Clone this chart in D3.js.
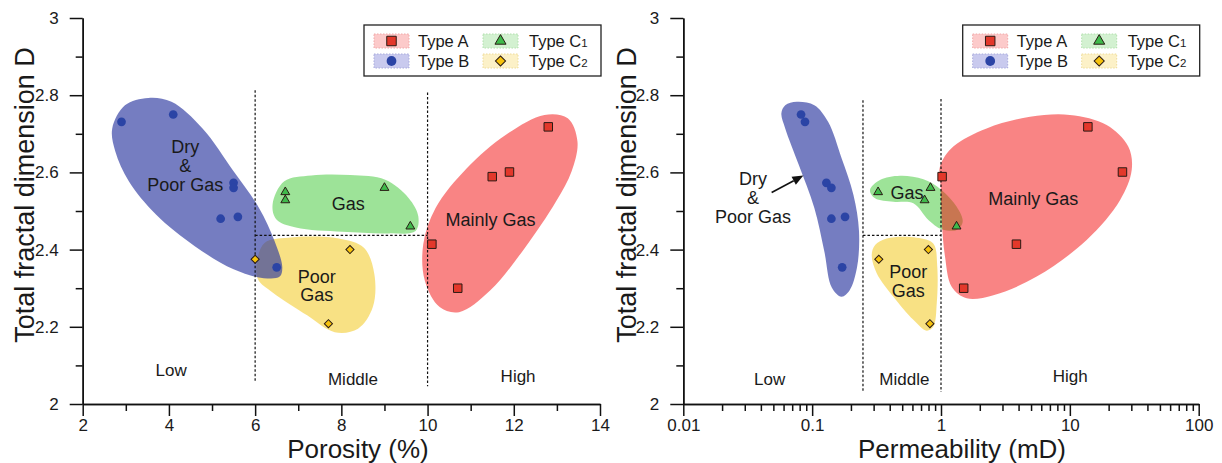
<!DOCTYPE html>
<html>
<head>
<meta charset="utf-8">
<script src="https://cdn.jsdelivr.net/npm/d3@7"></script>
<style>
  body { margin: 0; background: #fff; }
  svg { display: block; }
  text { font-family: "Liberation Sans", Arial, Helvetica, sans-serif; fill: #1a1a1a; }
</style>
</head>
<body>
<svg id="chart" width="1222" height="463"></svg>
<script>
// ---- sample measurements (same samples on both panels) ----
const typeA_porosity = [12.8, 11.5, 11.9, 10.1, 10.7];
const typeA_perm     = [13.8, 1.02, 25.6, 3.85, 1.50];
const typeA_D        = [2.718, 2.589, 2.601, 2.414, 2.300];

const typeB_porosity = [2.9, 4.1, 5.5, 5.5, 5.2, 5.6, 6.5];
const typeB_perm     = [0.088, 0.082, 0.129, 0.141, 0.141, 0.180, 0.171];
const typeB_D        = [2.731, 2.750, 2.573, 2.560, 2.480, 2.485, 2.354];

const typeC1_porosity = [6.7, 6.7, 9.0, 9.6];
const typeC1_perm     = [0.325, 0.746, 0.829, 1.32];
const typeC1_D        = [2.549, 2.528, 2.560, 2.460];

const typeC2_porosity = [6.0, 8.2, 7.7];
const typeC2_perm     = [0.329, 0.798, 0.82];
const typeC2_D        = [2.375, 2.400, 2.208];

// ---- axis ticks ----
const yTicks = [2, 2.2, 2.4, 2.6, 2.8, 3];
const yMinorTicks = [2.1, 2.3, 2.5, 2.7, 2.9];
const porosityTicks = [2, 4, 6, 8, 10, 12, 14];
const porosityMinorTicks = [3, 5, 7, 9, 11, 13];
const permTicks = [0.01, 0.1, 1, 10, 100];
const permTickLabels = ["0.01", "0.1", "1", "10", "100"];

// ---- classification cut-offs ----
const porosityCuts = [6, 10];
const permCuts = [0.248, 1];
const cutD = 2.437;

// ---- gas-zone outlines [x, D] ----
const zoneB_porosity = [[2.685,2.714],[2.98,2.774],[3.52,2.793],[4.06,2.783],[4.78,2.714],[5.5,2.603],[6.09,2.508],[6.45,2.422],[6.63,2.354],[6.57,2.330],[6.2,2.326],[5.5,2.349],[4.6,2.409],[3.7,2.491],[3.07,2.577],[2.757,2.654]];
const zoneC1_porosity = [[6.405,2.517],[6.676,2.577],[7.306,2.592],[8.207,2.593],[9.018,2.581],[9.559,2.534],[9.784,2.487],[9.72,2.448],[9.108,2.442],[8.027,2.446],[6.946,2.457],[6.495,2.478]];
const zoneC2_porosity = [[6.045,2.371],[6.225,2.418],[6.766,2.431],[7.937,2.429],[8.523,2.405],[8.766,2.336],[8.73,2.251],[8.387,2.195],[7.847,2.186],[7.216,2.229],[6.405,2.289],[6.063,2.324]];
const zoneA_porosity = [[12.712,2.749],[13.252,2.740],[13.477,2.680],[13.342,2.603],[12.982,2.525],[12.26,2.405],[11.45,2.294],[10.73,2.238],[10.28,2.251],[9.937,2.319],[9.9,2.414],[10.186,2.508],[10.91,2.611],[11.81,2.697]];

const zoneB_perm = [[0.0577,2.753],[0.0618,2.774],[0.076,2.783],[0.104,2.774],[0.133,2.731],[0.169,2.637],[0.209,2.542],[0.231,2.448],[0.223,2.354],[0.195,2.294],[0.169,2.278],[0.142,2.302],[0.124,2.397],[0.104,2.508],[0.0787,2.620],[0.0618,2.714]];
const zoneC1_perm = [[0.281,2.554],[0.336,2.580],[0.481,2.591],[0.730,2.582],[1.013,2.554],[1.324,2.511],[1.474,2.472],[1.324,2.451],[1.013,2.453],[0.798,2.477],[0.610,2.520],[0.427,2.524],[0.308,2.533]];
const zoneC2_perm = [[0.308,2.412],[0.379,2.429],[0.648,2.431],[0.871,2.416],[0.935,2.356],[0.927,2.261],[0.871,2.200],[0.774,2.190],[0.610,2.218],[0.427,2.278],[0.317,2.339],[0.290,2.386]];
const zoneA_perm = [[0.982,2.615],[1.246,2.667],[2.26,2.714],[4.91,2.744],[10.0,2.749],[19.3,2.723],[28.4,2.667],[30.2,2.606],[24.5,2.528],[13.5,2.425],[5.53,2.330],[2.55,2.282],[1.585,2.274],[1.21,2.304],[1.074,2.382],[1.013,2.477],[0.995,2.563]];

// ---- styles ----
const zoneFill = { A: "#f30a0a", B: "#2b37a0", C1: "#3cc832", C2: "#f2c40a" };
const zoneAlpha = { A: 0.5, B: 0.65, C1: 0.5, C2: 0.5 };
const legendFill = { A: "#fccaca", B: "#c9caee", C1: "#d3f1d1", C2: "#fcf1c8" };
const legendStroke = { A: "#f0a8a8", B: "#a9abdc", C1: "#b2e0ae", C2: "#eedc9a" };
const markFill = { A: "#e3382b", B: "#2b44a5", C1: "#3fba4b", C2: "#f6c20c" };

const svg = d3.select("#chart");
const Y0 = 404, Y1 = 18;

function markerPath(type, big) {
  const k = big ? 1.25 : 1;
  if (type === "A") return d3.symbol(d3.symbolSquare, 72 * k)();
  if (type === "B") return d3.symbol(d3.symbolCircle, 60 * k)();
  if (type === "C1") return d3.symbol(d3.symbolTriangle, 34 * k * k)();
  return d3.symbol(d3.symbolSquare, 33 * k * k)();
}

function drawPanel(opt) {
  const g = svg.append("g");
  const x = opt.x, y = d3.scaleLinear().domain([2, 3]).range([Y0, Y1]);

  // zones
  const line = d3.line().x(d => x(d[0])).y(d => y(d[1])).curve(d3.curveCatmullRomClosed.alpha(0.5));
  const zg = g.append("g");
  opt.zoneOrder.forEach(key => {
    zg.append("path").attr("d", line(opt.zones[key]))
      .attr("fill", zoneFill[key]).attr("fill-opacity", zoneAlpha[key]);
  });

  // cut-off lines
  const dash = g.append("g").attr("stroke", "#111").attr("stroke-width", 1.2)
    .attr("stroke-dasharray", "2.5,2").attr("fill", "none");
  opt.cuts.forEach((c, i) => {
    dash.append("line").attr("x1", x(c)).attr("x2", x(c))
      .attr("y1", y(opt.cutTop[i])).attr("y2", y(opt.cutBottom[i]));
  });
  dash.append("line").attr("x1", x(opt.cuts[0])).attr("x2", x(opt.cuts[1]))
    .attr("y1", y(cutD)).attr("y2", y(cutD));

  // axes
  const xAxis = d3.axisBottom(x).tickValues(opt.xTicks).tickSize(12).tickPadding(3)
    .tickSizeOuter(0).tickFormat((d, i) => opt.xLabels[i]);
  const xMinor = d3.axisBottom(x).tickValues(opt.xMinor).tickSize(7).tickSizeOuter(0).tickFormat("");
  const yAxis = d3.axisLeft(y).tickValues(yTicks).tickSize(13).tickPadding(11)
    .tickSizeOuter(0).tickFormat(d3.format("~g"));
  const yMinor = d3.axisLeft(y).tickValues(yMinorTicks).tickSize(7).tickSizeOuter(0).tickFormat("");

  [[xMinor, "x"], [xAxis, "x"], [yMinor, "y"], [yAxis, "y"]].forEach(([ax, dir]) => {
    const a = g.append("g")
      .attr("transform", dir === "x" ? `translate(0,${Y0})` : `translate(${opt.x.range()[0]},0)`)
      .call(ax);
    a.selectAll("path,line").attr("stroke", "#111").attr("stroke-width", 1.5);
    a.selectAll("text").attr("font-size", 17).attr("fill", "#1a1a1a")
      .style("font-family", '"Liberation Sans", Arial, sans-serif');
  });

  // markers
  const mg = g.append("g");
  opt.series.forEach(s => {
    s.xs.forEach((xv, i) => {
      const p = mg.append("path").attr("d", markerPath(s.key))
        .attr("fill", markFill[s.key]);
      if (s.key === "C2") p.attr("transform", `translate(${x(xv)},${y(s.ys[i])}) rotate(45)`);
      else p.attr("transform", `translate(${x(xv)},${y(s.ys[i])})`);
      if (s.key !== "B") p.attr("stroke", "#2a1a14").attr("stroke-width", 1);
    });
  });

  // zone labels
  opt.labels.forEach(l => {
    const t = g.append("text").attr("text-anchor", "middle").attr("font-size", l.size);
    l.lines.forEach((s, i) => {
      t.append("tspan").attr("x", x(l.x)).attr("y", y(l.ys[i])).attr("dy", "0.36em").text(s);
    });
  });

  // arrow
  if (opt.arrow) {
    const a = opt.arrow;
    const x1 = x(a.from[0]), y1 = y(a.from[1]), x2 = x(a.to[0]), y2 = y(a.to[1]);
    const ang = Math.atan2(y2 - y1, x2 - x1);
    const hl = 11, hw = 4.5;
    const bx = x2 - hl * Math.cos(ang), by = y2 - hl * Math.sin(ang);
    g.append("line").attr("x1", x1).attr("y1", y1).attr("x2", bx).attr("y2", by)
      .attr("stroke", "#111").attr("stroke-width", 1.6);
    g.append("path").attr("fill", "#111")
      .attr("d", `M${x2},${y2}L${bx + hw * Math.sin(ang)},${by - hw * Math.cos(ang)}L${bx - hw * Math.sin(ang)},${by + hw * Math.cos(ang)}Z`);
  }

  // axis titles
  g.append("text").attr("text-anchor", "middle").attr("font-size", 26)
    .attr("x", opt.titleX).attr("y", 458).text(opt.xTitle);
  g.append("text").attr("text-anchor", "middle").attr("font-size", 27)
    .attr("transform", `translate(${opt.yTitleX},195) rotate(-90)`).text("Total fractal dimension D");

  // legend
  const xr = opt.x.range()[1];
  const lg = g.append("g").attr("transform", `translate(${xr - 236},25)`);
  lg.append("rect").attr("x", 0).attr("y", 0).attr("width", 237).attr("height", 51)
    .attr("fill", "#fff").attr("stroke", "#222").attr("stroke-width", 1.3);
  const items = [
    { key: "A", label: "Type A", col: 0, row: 0 },
    { key: "C1", label: "Type C", sub: "1", col: 1, row: 0 },
    { key: "B", label: "Type B", col: 0, row: 1 },
    { key: "C2", label: "Type C", sub: "2", col: 1, row: 1 }
  ];
  items.forEach(it => {
    const ox = it.col * 109, cy = 16 + it.row * 20;
    lg.append("rect").attr("x", ox + 10).attr("y", cy - 7).attr("width", 35).attr("height", 14)
      .attr("fill", legendFill[it.key]).attr("stroke", legendStroke[it.key])
      .attr("stroke-width", 1).attr("stroke-dasharray", "1.5,1.5");
    const m = lg.append("path").attr("d", markerPath(it.key, true)).attr("fill", markFill[it.key]);
    m.attr("transform", `translate(${ox + 27.5},${cy})` + (it.key === "C2" ? " rotate(45)" : ""));
    if (it.key !== "B") m.attr("stroke", "#2a1a14").attr("stroke-width", 1);
    const t = lg.append("text").attr("x", ox + (it.col ? 56 : 54)).attr("y", cy).attr("dy", "0.36em")
      .attr("font-size", 16.5).text(it.label);
    if (it.sub) t.append("tspan").attr("font-size", 11.5).text(it.sub);
  });
}

// ---- left panel: porosity ----
drawPanel({
  x: d3.scaleLinear().domain([2, 14]).range([82.7, 600]),
  xTicks: porosityTicks, xLabels: porosityTicks.map(String), xMinor: porosityMinorTicks,
  xTitle: "Porosity (%)", titleX: 358, yTitleX: 34,
  cuts: porosityCuts, cutTop: [2.813, 2.807], cutBottom: [2.055, 2.046],
  zones: { A: zoneA_porosity, B: zoneB_porosity, C1: zoneC1_porosity, C2: zoneC2_porosity },
  zoneOrder: ["C2", "C1", "B", "A"],
  series: [
    { key: "B", xs: typeB_porosity, ys: typeB_D },
    { key: "C1", xs: typeC1_porosity, ys: typeC1_D },
    { key: "C2", xs: typeC2_porosity, ys: typeC2_D },
    { key: "A", xs: typeA_porosity, ys: typeA_D }
  ],
  labels: [
    { lines: ["Dry", "&", "Poor Gas"], x: 4.38, ys: [2.667, 2.617, 2.569], size: 18 },
    { lines: ["Gas"], x: 8.16, ys: [2.520], size: 18 },
    { lines: ["Poor", "Gas"], x: 7.43, ys: [2.330, 2.284], size: 18 },
    { lines: ["Mainly Gas"], x: 11.46, ys: [2.477], size: 18 },
    { lines: ["Low"], x: 4.05, ys: [2.089], size: 17 },
    { lines: ["Middle"], x: 8.27, ys: [2.066], size: 17 },
    { lines: ["High"], x: 12.1, ys: [2.073], size: 17 }
  ]
});

// ---- right panel: permeability ----
const permScale = d3.scaleLog().domain([0.01, 100]).range([683.3, 1198.7]);
drawPanel({
  x: permScale,
  xTicks: permTicks, xLabels: permTickLabels,
  xMinor: permScale.ticks().filter(t => !permTicks.includes(t)),
  xTitle: "Permeability (mD)", titleX: 962, yTitleX: 636,
  cuts: permCuts, cutTop: [2.787, 2.79], cutBottom: [2.029, 2.031],
  zones: { A: zoneA_perm, B: zoneB_perm, C1: zoneC1_perm, C2: zoneC2_perm },
  zoneOrder: ["C2", "B", "C1", "A"],
  series: [
    { key: "B", xs: typeB_perm, ys: typeB_D },
    { key: "C1", xs: typeC1_perm, ys: typeC1_D },
    { key: "C2", xs: typeC2_perm, ys: typeC2_D },
    { key: "A", xs: typeA_perm, ys: typeA_D }
  ],
  labels: [
    { lines: ["Dry", "&", "Poor Gas"], x: 0.0347, ys: [2.583, 2.535, 2.485], size: 18 },
    { lines: ["Gas"], x: 0.545, ys: [2.547], size: 18 },
    { lines: ["Poor", "Gas"], x: 0.557, ys: [2.343, 2.295], size: 18 },
    { lines: ["Mainly Gas"], x: 5.2, ys: [2.533], size: 18 },
    { lines: ["Low"], x: 0.0468, ys: [2.066], size: 17 },
    { lines: ["Middle"], x: 0.52, ys: [2.066], size: 17 },
    { lines: ["High"], x: 10.07, ys: [2.073], size: 17 }
  ],
  arrow: { from: [0.0485, 2.548], to: [0.0855, 2.592] }
});
</script>
</body>
</html>
